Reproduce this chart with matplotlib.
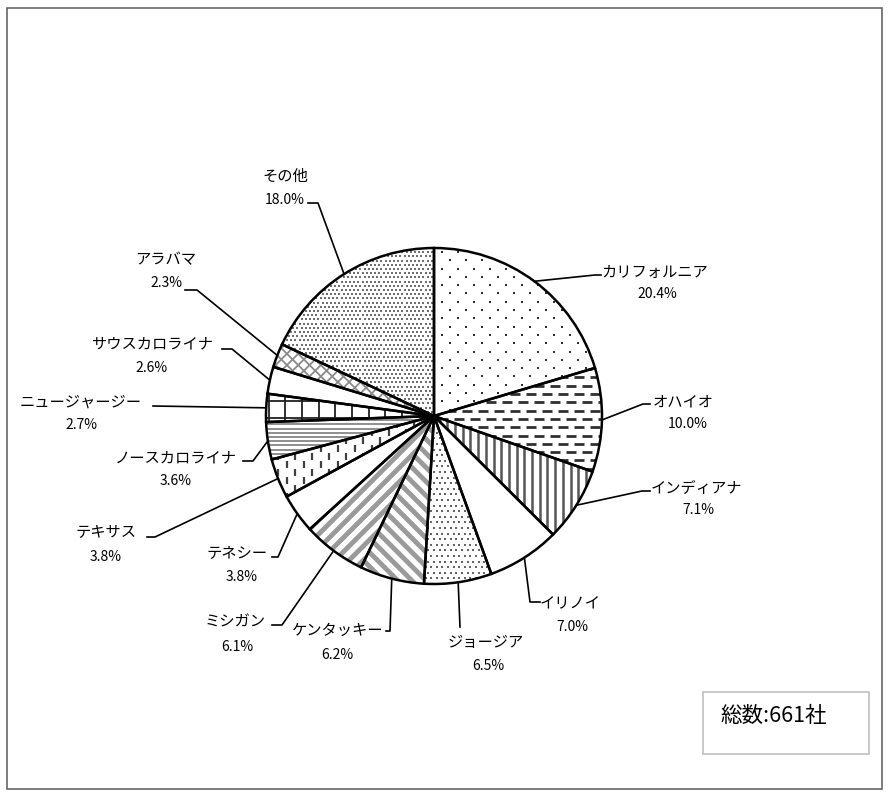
import numpy as np
import matplotlib
matplotlib.use("Agg")
import matplotlib.pyplot as plt
from matplotlib.collections import LineCollection
from matplotlib.patches import Rectangle, Wedge

plt.rcParams["font.family"] = ["Noto Sans CJK JP", "DejaVu Sans"]
plt.rcParams["lines.scale_dashes"] = False

states = ["カリフォルニア", "オハイオ", "インディアナ", "イリノイ", "ジョージア",
          "ケンタッキー", "ミシガン", "テネシー", "テキサス", "ノースカロライナ",
          "ニュージャージー", "サウスカロライナ", "アラバマ", "その他"]
shares = [20.4, 10.0, 7.1, 7.0, 6.5, 6.2, 6.1, 3.8, 3.8, 3.6, 2.7, 2.6, 2.3, 18.0]
total_label = "総数:661社"

W, H = 894, 792
CX, CY, R = 434, 416, 168

# label layout in pixel coords (y from top): name, percent, leader elbow points
label_layout = [
    ((655, 272), (657, 294), [(595, 275), (601, 275)]),
    ((683, 402), (688, 424), [(643, 404), (650, 404)]),
    ((696, 488), (698, 510), [(642, 491), (650, 491)]),
    ((570, 604), (572, 627), [(530, 602), (540, 602)]),
    ((486, 642), (488, 666), [(460, 627)]),
    ((338, 630), (337, 655), [(390, 631), (386, 631)]),
    ((235, 622), (237, 647), [(282, 625), (272, 625)]),
    ((237, 553), (242, 577), [(278, 557), (272, 557)]),
    ((106, 533), (106, 557), [(155, 537), (147, 537)]),
    ((176, 458), (176, 481), [(253, 461), (243, 461)]),
    ((81, 402), (81, 425), [(153, 406)]),
    ((152, 344), (152, 368), [(232, 349), (222, 349)]),
    ((166, 260), (166, 283), [(197, 290), (185, 290)]),
    ((285, 176), (285, 200), [(318, 203), (308, 203)]),
]


def py(y):
    return H - y


def line_fill(ax, wedge, angle, spacing, lw, color, dashes=None, dash_shift=0.0):
    a = np.deg2rad(angle)
    d = np.array([np.cos(a), np.sin(a)])
    n = np.array([-np.sin(a), np.cos(a)])
    c = np.array([CX, py(CY)])
    L = R * 1.5
    offs = np.arange(-L, L, spacing)
    for parity in (0, 1):
        segs = [[c + n * o - d * L, c + n * o + d * L] for o in offs[parity::2]]
        kw = {}
        if dashes is not None:
            kw["linestyle"] = (parity * dash_shift, dashes)
        lc = LineCollection(segs, colors=color, linewidths=lw, zorder=2, capstyle="butt", **kw)
        lc.set_clip_path(wedge)
        ax.add_collection(lc)


def dot_fill(ax, wedge, dx, dy, size, color):
    xs, ys = [], []
    for i, y in enumerate(np.arange(py(CY) - R, py(CY) + R, dy)):
        shift = dx / 2 if i % 2 else 0
        for x in np.arange(CX - R + shift, CX + R, dx):
            xs.append(x)
            ys.append(y)
    sc = ax.scatter(xs, ys, s=size, c=color, marker="s", linewidths=0, zorder=2)
    sc.set_clip_path(wedge)


fig = plt.figure(figsize=(W / 100, H / 100), dpi=100)
ax = fig.add_axes([0, 0, 1, 1])

wedges, _ = ax.pie(shares, center=(CX, py(CY)), radius=R, startangle=90, counterclock=False,
                   wedgeprops=dict(facecolor="white", edgecolor="none", linewidth=0))
ax.set_xlim(0, W)
ax.set_ylim(0, H)
ax.set_aspect("equal")
ax.axis("off")

pt = 0.72  # points per pixel
w = wedges
dot_fill(ax, w[0], 16, 8.3, 3.0, "#303030")
line_fill(ax, w[1], 0, 8.3, 2.0, "#303030", dashes=(10 * pt, 6 * pt), dash_shift=8 * pt)
line_fill(ax, w[2], 90, 7.7, 1.8, "#555555")
dot_fill(ax, w[4], 5.6, 5.6, 1.6, "#666666")
line_fill(ax, w[5], -45, 10, 3.5, "#9a9a9a")
line_fill(ax, w[6], 45, 10, 3.5, "#9a9a9a")
line_fill(ax, w[8], 90, 8.5, 1.6, "#404040", dashes=(7 * pt, 9 * pt), dash_shift=8 * pt)
line_fill(ax, w[9], 0, 4.2, 1.1, "#707070")
line_fill(ax, w[10], 0, 16.7, 1.3, "#202020")
line_fill(ax, w[10], 90, 16.7, 1.3, "#202020")
line_fill(ax, w[12], 45, 8, 1.3, "#8a8a8a")
line_fill(ax, w[12], -45, 8, 1.3, "#8a8a8a")
dot_fill(ax, w[13], 4.2, 4.2, 1.5, "#707070")

for wd in wedges:
    ax.add_patch(Wedge(wd.center, wd.r, wd.theta1, wd.theta2, fill=False,
                       edgecolor="black", linewidth=1.8, zorder=3))

for wd, name, val, (nxy, pxy, elbow) in zip(wedges, states, shares, label_layout):
    t = np.deg2rad((wd.theta1 + wd.theta2) / 2)
    ex = CX + R * np.cos(t)
    ey = py(CY) + R * np.sin(t)
    xs = [ex] + [p[0] for p in elbow]
    ys = [ey] + [py(p[1]) for p in elbow]
    ax.plot(xs, ys, color="black", linewidth=1.2, zorder=4)
    ax.text(nxy[0], py(nxy[1]), name, ha="center", va="center", fontsize=11)
    ax.text(pxy[0], py(pxy[1]), f"{val:.1f}%", ha="center", va="center", fontsize=10)

ax.add_patch(Rectangle((7, py(789)), 875, 781, fill=False, edgecolor="#666666", linewidth=1.2))
ax.add_patch(Rectangle((703, py(754)), 166, 62, fill=False, edgecolor="#bfbfbf", linewidth=1.2))
ax.text(720, py(716), total_label, ha="left", va="center", fontsize=15.5)

fig.savefig("out.png", dpi=100)
